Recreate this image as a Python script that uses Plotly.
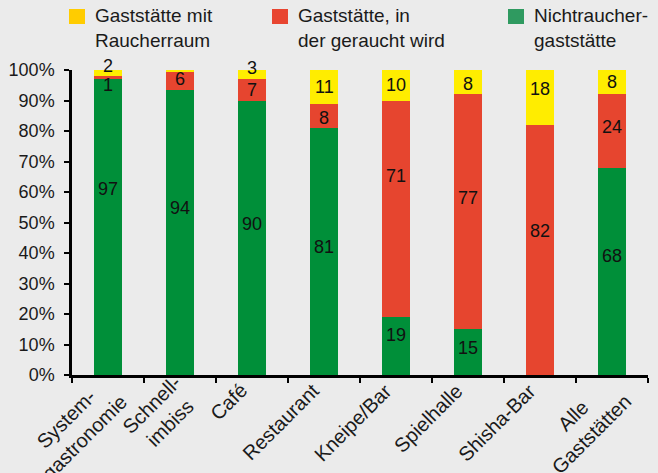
import plotly.graph_objects as go

# ---- data ----
categories = ["System-<br>gastronomie", "Schnell-<br>imbiss", "Café", "Restaurant",
              "Kneipe/Bar", "Spielhalle", "Shisha-Bar", "Alle<br>Gaststätten"]
nichtraucher = [97, 93.5, 90, 81, 19, 15, 0, 68]
geraucht = [1, 6, 7, 8, 71, 77, 82, 24]
raucherraum = [2, 0.5, 3, 11, 10, 8, 18, 8]
series_names = ["Nichtraucher-<br>gaststätte", "Gaststätte, in<br>der geraucht wird",
                "Gaststätte mit<br>Raucherraum"]
yticks = [0, 10, 20, 30, 40, 50, 60, 70, 80, 90, 100]
ytick_labels = [f"{v}%" for v in yticks]

# ---- styling ----
W, H = 658, 473
ML, MR, MT, MB = 72, 10, 70, 98
PW, PH = W - ML - MR, H - MT - MB
FONT = "Liberation Sans, Arial, sans-serif"
BG = "#ebebeb"
TXT = "#1a1a1a"
bar_colors = ["#008f39", "#e6452f", "#ffed00"]
legend_colors = ["#2f9a60", "#e84530", "#ffcc00"]
# label nudges in px (up positive) per series
nudges = [
    [38, 24, 14, 4, 11, 4, 0, 15],
    [-7, 2, 0, -2, 33, 14, 19, 4],
    [7, 0, 7, 0, 0, -2, 8, 0],
]

def px_x(p):
    return (p - ML) / PW

def px_y(p):
    return (H - MB - p) / PH

series = [nichtraucher, geraucht, raucherraum]
fig = go.Figure()
for vals, name, col in zip(series, series_names, bar_colors):
    fig.add_trace(go.Bar(x=categories, y=vals, name=name, marker_color=col,
                         marker_line_width=0, width=0.4, showlegend=False,
                         hoverinfo="y"))

annotations = []
base = [0] * len(categories)
for si, vals in enumerate(series):
    for ci, v in enumerate(vals):
        mid = base[ci] + v / 2
        base[ci] += v
        if round(v) < 1:
            continue
        annotations.append(dict(x=categories[ci], y=mid, xref="x", yref="y",
                                text=str(round(v)), showarrow=False,
                                yshift=nudges[si][ci],
                                font=dict(family=FONT, size=18, color="#111")))

# rotated category labels (centre-aligned lines, like the original)
for cat in categories:
    multi = "<br>" in cat
    annotations.append(dict(x=cat, y=0, xref="x", yref="y", text=cat,
                            showarrow=False, textangle=-45, align="center",
                            xanchor="right", yanchor="top",
                            xshift=26 if multi else 2, yshift=6 if multi else -2,
                            font=dict(family=FONT, size=20, color=TXT)))

# manual legend (top row)
shapes = []
legend_items = [  # (series index, square left px, text left px)
    (2, 69, 95),
    (1, 272, 298),
    (0, 508, 534),
]
for si, sq_x, tx_x in legend_items:
    shapes.append(dict(type="rect", xref="paper", yref="paper",
                       x0=px_x(sq_x), x1=px_x(sq_x + 16),
                       y0=px_y(24), y1=px_y(9),
                       fillcolor=legend_colors[si], line_width=0))
    annotations.append(dict(x=px_x(tx_x - 2), y=px_y(3), xref="paper", yref="paper",
                            xanchor="left", yanchor="top", align="left",
                            text=series_names[si], showarrow=False,
                            font=dict(family=FONT, size=19, color=TXT)))

fig.update_layout(
    barmode="stack",
    width=W, height=H,
    margin=dict(l=ML, r=MR, t=MT, b=MB, pad=0, autoexpand=False),
    paper_bgcolor=BG, plot_bgcolor=BG,
    font=dict(family=FONT, size=18, color=TXT),
    annotations=annotations,
    shapes=shapes,
    xaxis=dict(range=[-0.5, len(categories) - 0.5], autorange=False,
               showline=True, linecolor="black", linewidth=2.5, automargin=False,
               ticks="outside", tickson="boundaries", ticklen=5, tickwidth=2,
               tickcolor="black", showticklabels=False, showgrid=False),
    yaxis=dict(range=[0, 100], autorange=False, tickmode="array", tickvals=yticks,
               ticktext=ytick_labels,
               showline=True, linecolor="black", linewidth=2.5, automargin=False,
               ticks="outside", ticklen=5, tickwidth=2, tickcolor="black",
               ticklabelstandoff=6,
               showgrid=False, zeroline=False,
               tickfont=dict(family=FONT, size=18, color=TXT)),
)

fig.write_html("out.html", config={"displayModeBar": False},
               post_script="document.body.style.margin='0px';"
                           "document.body.style.background='#ebebeb';")
